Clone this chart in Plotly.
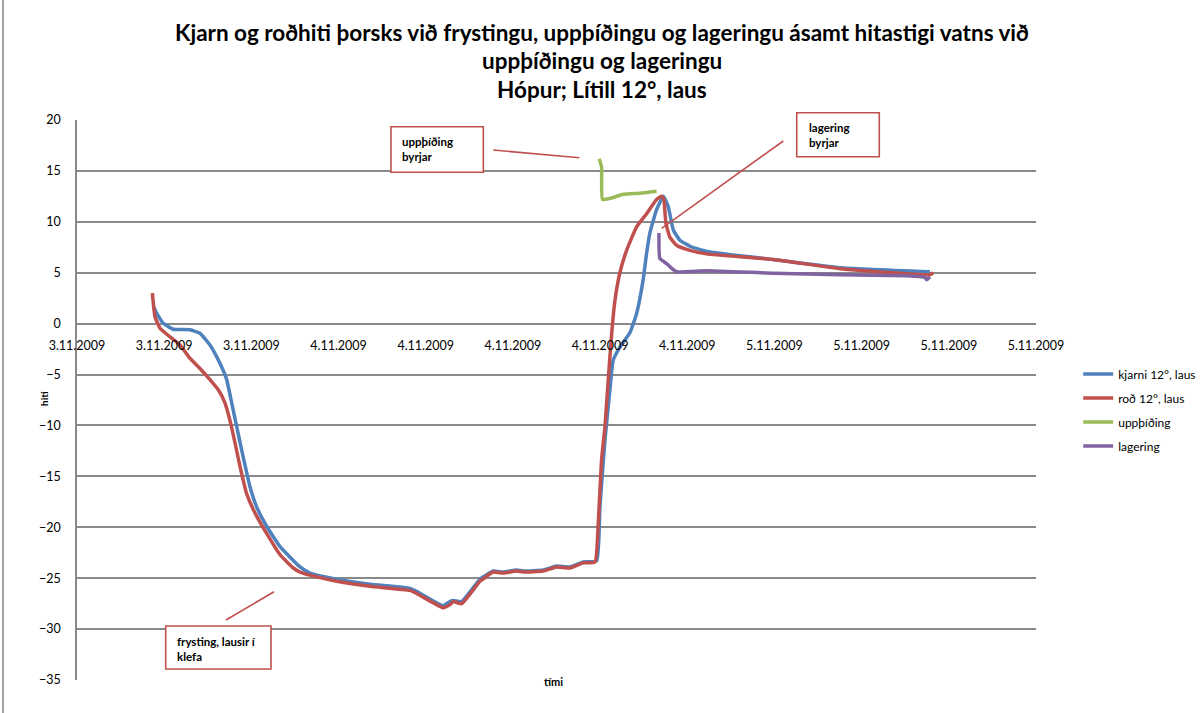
import plotly.graph_objects as go

# ---- data (hours after 3.11.2009 12:00, temperature °C) ----
tick_labels = ["3.11.2009", "3.11.2009", "3.11.2009", "4.11.2009", "4.11.2009", "4.11.2009",
               "4.11.2009", "4.11.2009", "5.11.2009", "5.11.2009", "5.11.2009", "5.11.2009"]
tick_step_h = 4.8

kjarni_t = [4.20, 4.39, 4.75, 5.30, 6.22, 6.77, 7.32, 7.87, 8.24, 8.52, 8.79, 9.15, 9.52, 9.89,
            10.44, 11.18, 12.28, 12.83, 14.30, 16.13, 18.33, 18.70, 20.16, 20.53, 20.72, 21.18,
            22.19, 22.92, 23.47, 24.21, 24.57, 25.67, 26.41, 27.14, 27.87, 28.61, 28.79, 29.07,
            29.34, 29.52, 29.89, 30.44, 30.81, 31.17, 31.36, 31.54, 31.91, 32.28, 32.55, 32.83,
            33.19, 33.75, 34.66, 38.33, 42.00, 46.96]
kjarni_v = [1.7, 1.0, 0.04, -0.55, -0.6, -0.95, -2.1, -3.9, -5.5, -7.8, -10.1, -13.1, -16.0, -18.0,
            -19.9, -21.9, -23.9, -24.5, -25.1, -25.6, -26.0, -26.3, -27.7, -27.3, -27.2, -27.3,
            -25.1, -24.3, -24.4, -24.2, -24.3, -24.2, -23.8, -23.9, -23.4, -23.3, -18.0, -11.4,
            -6.5, -3.6, -2.3, -0.9, 1.0, 4.3, 6.9, 8.9, 11.2, 12.5, 11.5, 9.2,
            8.2, 7.6, 7.1, 6.3, 5.5, 5.1]

rod_t = [4.15, 4.29, 4.57, 5.12, 5.67, 6.22, 6.77, 7.32, 7.78, 8.15, 8.42, 8.70, 8.97, 9.34,
         9.80, 10.44, 11.18, 11.91, 12.28, 12.83, 14.30, 16.13, 18.33, 18.70, 20.16, 20.53,
         20.72, 21.18, 22.19, 22.92, 23.47, 24.21, 24.57, 25.67, 26.41, 27.14, 27.87, 28.52,
         28.70, 28.88, 29.07, 29.25, 29.44, 29.62, 29.89, 30.26, 30.81, 31.36, 31.91, 32.19,
         32.31, 32.42, 32.64, 33.01, 33.75, 34.66, 38.33, 42.00, 46.96, 47.14]
rod_v = [3.0, 0.7, -0.45, -1.3, -2.1, -3.4, -4.4, -5.5, -6.5, -7.8, -9.5, -11.7, -14.0, -16.7,
         -18.6, -20.6, -22.7, -24.0, -24.4, -24.7, -25.3, -25.8, -26.2, -26.5, -27.9, -27.6,
         -27.3, -27.5, -25.3, -24.4, -24.5, -24.3, -24.4, -24.3, -23.9, -24.0, -23.5, -23.4,
         -19.6, -13.4, -10.1, -5.5, -0.9, 2.3, 5.0, 7.2, 9.5, 10.8, 12.2, 12.5,
         12.2, 9.9, 8.5, 7.7, 7.2, 6.85, 6.3, 5.4, 4.8, 5.0]

uppthiding_t = [28.75, 28.88, 28.93, 29.34, 30.07, 30.99, 31.91]
uppthiding_v = [16.2, 15.4, 12.2, 12.3, 12.7, 12.8, 13.0]

lagering_t = [32.04, 32.09, 32.46, 32.64, 33.01, 34.66, 38.33, 42.00, 45.67, 46.68, 46.78, 46.96]
lagering_v = [8.9, 6.4, 5.9, 5.6, 5.1, 5.2, 4.95, 4.8, 4.7, 4.55, 4.3, 4.6]

series = [
    ("kjarni 12°, laus", kjarni_t, kjarni_v, "#4F81BD"),
    ("roð 12°, laus", rod_t, rod_v, "#C0504D"),
    ("uppþíðing", uppthiding_t, uppthiding_v, "#9BBB59"),
    ("lagering", lagering_t, lagering_v, "#8064A2"),
]

FONT = "Lato, 'Open Sans', sans-serif"
GRID = "#8a8a8a"

fig = go.Figure()
for i, (name, t, v, c) in enumerate(series):
    fig.add_trace(go.Scatter(x=t, y=v, mode="lines", name=name, legendgroup=str(i),
                             line=dict(color=c, width=3.5, shape="spline", smoothing=0.4)))

tickvals = [k * tick_step_h for k in range(len(tick_labels))]

fig.update_layout(
    width=1203, height=713,
    margin=dict(l=77, r=167, t=120, b=33, autoexpand=False),
    paper_bgcolor="white", plot_bgcolor="white",
    font=dict(family=FONT, size=12, color="#000000"),
    showlegend=True,
    legend=dict(x=1.044, y=0.482, xanchor="left", yanchor="middle",
                font=dict(family=FONT, size=12), tracegroupgap=5,
                bgcolor="rgba(0,0,0,0)"),
    xaxis=dict(range=[0, tick_step_h * (len(tick_labels) - 1)], tickmode="array",
               tickvals=tickvals, ticktext=tick_labels, showgrid=False, zeroline=False,
               showline=False, ticks="", anchor="free", position=(0 + 35) / 55,
               tickfont=dict(family=FONT, size=12.5), ticklabelstandoff=13),
    yaxis=dict(range=[-35, 20], dtick=5, tick0=0, showgrid=True, gridcolor=GRID,
               gridwidth=1.6, zeroline=False, showline=True, linecolor=GRID, linewidth=1.6,
               ticks="", ticklabelstandoff=12, tickfont=dict(family=FONT, size=12.5)),
)

annotations = [
    dict(text="<b>Kjarn og roðhiti þorsks við frystingu, uppþíðingu og lageringu ásamt hitastigi vatns við</b>",
         x=0.547, y=1.157),
    dict(text="<b>uppþíðingu og lageringu</b>", x=0.547, y=1.107),
    dict(text="<b>Hópur; Lítill 12°, laus</b>", x=0.547, y=1.055),
]
for a in annotations:
    fig.add_annotation(xref="paper", yref="paper", xanchor="center", yanchor="middle",
                       showarrow=False, font=dict(family=FONT, size=22.5, color="#000"), **a)

fig.add_annotation(text="<b>tími</b>", xref="paper", yref="paper", x=0.4964, y=-0.018,
                   showarrow=False, font=dict(family=FONT, size=11))
fig.add_annotation(text="<b>hiti</b>", xref="paper", yref="paper", x=-0.0428, y=0.5036,
                   textangle=-90, showarrow=False, font=dict(family=FONT, size=10))

# callout boxes and connectors (paper coords)
RED = "#C0504D"
boxes = [
    (0.3274, 0.9066, 0.4237, 0.9880, "<b>uppþíðing<br>byrjar</b>", 0.3368, 0.9479,
     (0.4341, 0.9464, 0.5238, 0.9327)),
    (0.7505, 0.9345, 0.8366, 1.0130, "<b>lagering<br>byrjar</b>", 0.7609, 0.9732,
     (0.7365, 0.9625, 0.6097, 0.8066)),
    (0.0925, 0.0196, 0.2023, 0.0964, "<b>frysting, lausir í<br>klefa</b>", 0.1022, 0.05625,
     (0.1554, 0.1071, 0.2054, 0.1577)),
]
for x0, y0, x1, y1, txt, tx, ty, ln in boxes:
    fig.add_shape(type="rect", xref="paper", yref="paper", x0=x0, y0=y0, x1=x1, y1=y1,
                  line=dict(color=RED, width=1.6), fillcolor="white", layer="above")
    fig.add_shape(type="line", xref="paper", yref="paper", x0=ln[0], y0=ln[1], x1=ln[2], y1=ln[3],
                  line=dict(color=RED, width=1.6), layer="above")
    fig.add_annotation(text=txt, xref="paper", yref="paper", x=tx, y=ty, xanchor="left",
                       yanchor="middle", align="left", showarrow=False,
                       font=dict(family=FONT, size=11.5, color="#000"))

# outer chart border (left edge visible in the reference)
fig.add_shape(type="line", xref="paper", yref="paper",
              x0=(3 - 77) / 959, x1=(3 - 77) / 959, y0=(680 - 713) / 560, y1=(680 - 0) / 560,
              line=dict(color=GRID, width=1.6), layer="below")

fig.write_html("out.html", config={"displayModeBar": False},
               post_script="document.body.style.margin='0px';"
                           "document.body.style.overflow='hidden';")
